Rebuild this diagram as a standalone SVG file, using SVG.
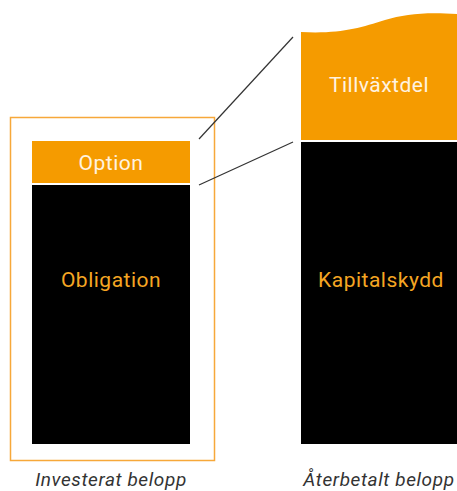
<svg xmlns="http://www.w3.org/2000/svg" width="457" height="491" viewBox="0 0 457 491">
<style>
.or{fill:#F59B00}
.bk{fill:#000}
.lbl{font-family:"Roboto","Liberation Sans",sans-serif;font-size:21px;letter-spacing:0.5px;text-anchor:middle}
.w{fill:#FFF3E0}
.o{fill:#F5A623}
.cap{font-family:"Roboto","Liberation Sans",sans-serif;font-size:19px;letter-spacing:0.6px;font-style:italic;fill:#333;text-anchor:middle}
.ln{stroke:#333;stroke-width:1.2;fill:none}
</style>
<rect width="457" height="491" fill="#fff"/>
<g id="frame"><rect x="10.5" y="117.5" width="204" height="343" fill="none" stroke="#F7A83A" stroke-width="1.5"/></g>
<g id="option"><rect class="or" x="32" y="141" width="158" height="42"/><text class="lbl w" x="111" y="170">Option</text></g>
<g id="obligation"><rect class="bk" x="32" y="185" width="158" height="259"/><text class="lbl o" x="111" y="287">Obligation</text></g>
<g id="tillvaxtdel"><path class="or" d="M301,32 C340,34 360,28 385,20 C405,14 425,12 457,14 L457,140 L301,140 Z"/><text class="lbl w" x="379" y="92">Tillväxtdel</text></g>
<g id="kapitalskydd"><rect class="bk" x="301" y="142" width="156" height="302"/><text class="lbl o" x="381" y="287">Kapitalskydd</text></g>
<g id="connectors"><line class="ln" x1="199" y1="139" x2="293" y2="37"/><line class="ln" x1="199" y1="185" x2="293" y2="142"/></g>
<text class="cap" x="111" y="486">Investerat belopp</text>
<text class="cap" x="379" y="486">Återbetalt belopp</text>
</svg>
